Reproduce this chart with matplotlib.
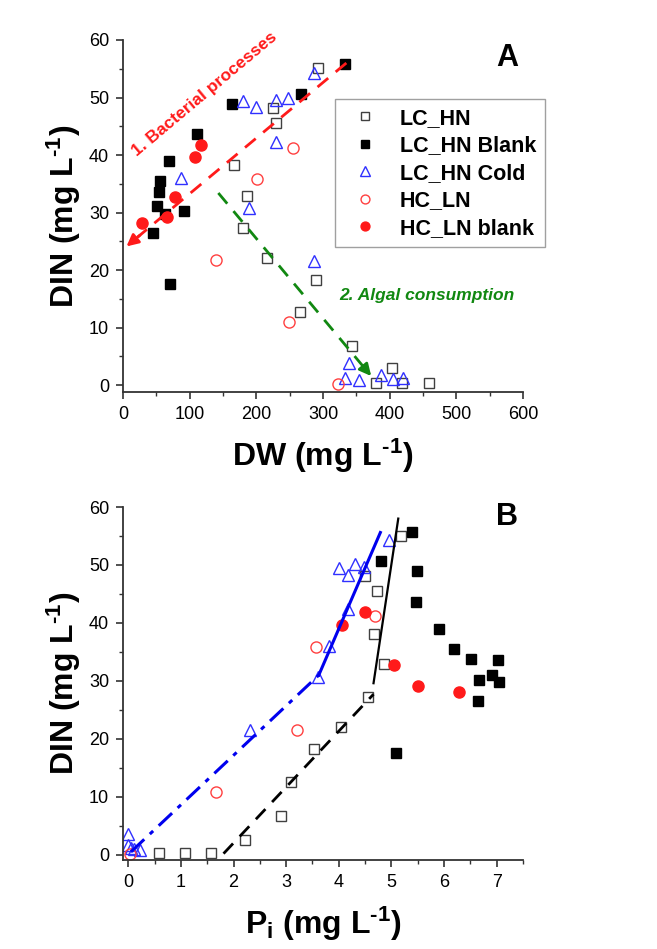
import matplotlib
matplotlib.use("Agg")
import matplotlib.pyplot as plt
from matplotlib.ticker import MultipleLocator

plt.rcParams["font.family"] = ["Liberation Sans", "DejaVu Sans"]
plt.rcParams["mathtext.fontset"] = "custom"
plt.rcParams["mathtext.rm"] = "Liberation Sans:bold"
plt.rcParams["mathtext.bf"] = "Liberation Sans:bold"
plt.rcParams["mathtext.it"] = "Liberation Sans:bold"
plt.rcParams["mathtext.default"] = "rm"

# ---- panel A : DIN vs DW ----
a_lchn_dw = [292, 225, 230, 167, 186, 180, 216, 290, 266, 344, 404, 380, 419, 459]
a_lchn_din = [55.1, 48.2, 45.6, 38.3, 32.9, 27.4, 22.1, 18.3, 12.7, 6.8, 2.9, 0.4, 0.3, 0.3]

a_blank_dw = [333, 267, 164, 111, 69, 56, 54, 51, 92, 45, 70, 63]
a_blank_din = [55.8, 50.6, 48.9, 43.7, 39.0, 35.5, 33.6, 31.1, 30.2, 26.4, 17.6, 29.8]

a_cold_dw = [287, 180, 199, 229, 247, 229, 87, 189, 286, 339, 333, 354, 387, 405, 420]
a_cold_din = [54.3, 49.4, 48.3, 49.6, 50.0, 42.3, 36.0, 30.8, 21.6, 3.8, 1.2, 0.9, 1.7, 1.0, 1.2]

a_hcln_dw = [255, 201, 140, 249, 323]
a_hcln_din = [41.2, 35.8, 21.7, 11.0, 0.2]

a_hcblank_dw = [117, 108, 78, 66, 29]
a_hcblank_din = [41.7, 39.7, 32.7, 29.3, 28.2]

# trend arrows (start, end)
bact_arrow = [(335, 56.0), (2, 23.8)]
algal_arrow = [(143, 33.4), (375, 1.2)]

# ---- panel B : DIN vs Pi ----
b_lchn_p = [5.19, 4.49, 4.73, 4.66, 4.85, 4.56, 4.05, 3.52, 3.10, 2.91, 2.22, 1.58, 1.08, 0.59]
b_lchn_din = [55.0, 48.1, 45.5, 38.1, 32.9, 27.3, 22.0, 18.2, 12.5, 6.7, 2.6, 0.3, 0.3, 0.3]

b_blank_p = [5.40, 4.81, 5.49, 5.46, 5.91, 6.18, 6.52, 7.02, 6.92, 7.05, 6.67, 6.65, 5.08]
b_blank_din = [55.7, 50.7, 49.0, 43.6, 38.9, 35.5, 33.7, 33.6, 31.1, 29.8, 30.1, 26.5, 17.5]

b_cold_p = [4.96, 4.01, 4.18, 4.30, 4.47, 4.18, 3.82, 3.61, 2.32, 0.0, 0.0, 0.1, 0.23, 0.05]
b_cold_din = [54.3, 49.5, 48.3, 50.1, 49.7, 42.4, 36.0, 30.6, 21.5, 3.5, 1.7, 1.0, 0.9, 1.2]

b_hcln_p = [4.68, 3.56, 3.21, 1.67, 0.04]
b_hcln_din = [41.2, 35.8, 21.6, 10.9, 0.2]

b_hcblank_p = [4.49, 4.07, 5.04, 5.51, 6.29]
b_hcblank_din = [41.9, 39.6, 32.7, 29.2, 28.0]

# fitted segments
blue_solid_p, blue_solid_din = [3.62, 4.79], [31.0, 55.6]
blue_dashdot_p, blue_dashdot_din = [0.05, 3.62], [0.5, 31.0]
black_solid_p, black_solid_din = [4.66, 5.13], [29.6, 58.0]
black_dash_p, black_dash_din = [1.81, 4.66], [0.2, 27.7]

legend_labels = ["LC_HN", "LC_HN Blank", "LC_HN Cold", "HC_LN", "HC_LN blank"]

fig = plt.figure(figsize=(6.57, 9.49), dpi=100)
ax_a = fig.add_axes([123 / 657, 1 - 392 / 949, 400 / 657, 352 / 949])
ax_b = fig.add_axes([123 / 657, 1 - 860 / 949, 400 / 657, 353 / 949])

BLUE = "#3030ff"
RED = "#ff1a1a"
GREEN = "#118811"
UNIT = " (mg L$^{\\text{-1}}$)"


def draw_points(ax, lchn, blank, cold, hcln, hcblank):
    ax.plot(*lchn, ls="none", marker="s", ms=7, mfc="white", mec="#404040", mew=1.0,
            label=legend_labels[0])
    ax.plot(*blank, ls="none", marker="s", ms=7, mfc="black", mec="black",
            label=legend_labels[1])
    ax.plot(*cold, ls="none", marker="^", ms=8.5, mfc="none", mec=BLUE, mew=1.0,
            label=legend_labels[2])
    ax.plot(*hcln, ls="none", marker="o", ms=8, mfc="none", mec="#ff4040", mew=1.0,
            label=legend_labels[3])
    ax.plot(*hcblank, ls="none", marker="o", ms=8, mfc=RED, mec=RED,
            label=legend_labels[4])


def style_axes(ax, xmaj, xmin):
    for side in ("top", "right"):
        ax.spines[side].set_visible(False)
    for side in ("left", "bottom"):
        ax.spines[side].set_linewidth(1.3)
        ax.spines[side].set_color("#333333")
    ax.yaxis.set_major_locator(MultipleLocator(10))
    ax.yaxis.set_minor_locator(MultipleLocator(5))
    ax.xaxis.set_major_locator(MultipleLocator(xmaj))
    ax.xaxis.set_minor_locator(MultipleLocator(xmin))
    ax.tick_params(which="major", direction="out", length=5, width=1.2,
                   color="#333333", labelsize=13, pad=5)
    ax.tick_params(which="minor", direction="out", length=3, width=1.0,
                   color="#333333")


def dashed_arrow(ax, start, end, color):
    (x0, y0), (x1, y1) = start, end
    ax.plot([x0, x1 + 0.06 * (x0 - x1)], [y0, y1 + 0.06 * (y0 - y1)],
            color=color, lw=2, ls=(0, (5, 3.5)))
    ax.annotate("", xy=(x1, y1), xytext=(x1 + 0.08 * (x0 - x1), y1 + 0.08 * (y0 - y1)),
                arrowprops=dict(arrowstyle="-|>,head_length=0.7,head_width=0.35",
                                color=color, lw=2))


# panel A
draw_points(ax_a, (a_lchn_dw, a_lchn_din), (a_blank_dw, a_blank_din),
            (a_cold_dw, a_cold_din), (a_hcln_dw, a_hcln_din),
            (a_hcblank_dw, a_hcblank_din))
dashed_arrow(ax_a, *bact_arrow, RED)
dashed_arrow(ax_a, *algal_arrow, GREEN)

ax_a.text(123, 50.5, "1. Bacterial processes", color=RED, fontsize=12.5,
          fontweight="bold", rotation=40, ha="center", va="center",
          rotation_mode="anchor")
ax_a.text(325, 15.6, "2. Algal consumption", color=GREEN, fontsize=12.5,
          fontweight="bold", style="italic", ha="left", va="center")
ax_a.text(0.96, 0.95, "A", transform=ax_a.transAxes, fontsize=22,
          fontweight="bold", ha="center", va="center")

ax_a.set_xlim(0, 600)
ax_a.set_ylim(-1.2, 60)
style_axes(ax_a, 100, 50)
ax_a.set_xlabel("DW" + UNIT, fontsize=23, fontweight="bold", labelpad=10)
ax_a.set_ylabel("DIN" + UNIT, fontsize=23, fontweight="bold", labelpad=4)

leg = ax_a.legend(loc="upper left", bbox_to_anchor=(0.53, 0.832), borderaxespad=0,
                  frameon=True, fancybox=False, edgecolor="#888888",
                  prop={"weight": "bold", "size": 15.5}, handletextpad=0.6,
                  labelspacing=0.3, borderpad=0.4, markerscale=0.8)
leg.get_frame().set_linewidth(1.0)
leg.set_clip_on(False)

# panel B
draw_points(ax_b, (b_lchn_p, b_lchn_din), (b_blank_p, b_blank_din),
            (b_cold_p, b_cold_din), (b_hcln_p, b_hcln_din),
            (b_hcblank_p, b_hcblank_din))
ax_b.plot(blue_solid_p, blue_solid_din, color="#0000ee", lw=2.2)
ax_b.plot(blue_dashdot_p, blue_dashdot_din, color="#0000ee", lw=2.2,
          ls=(0, (6, 2.5, 1.5, 2.5)))
ax_b.plot(black_solid_p, black_solid_din, color="black", lw=1.6)
ax_b.plot(black_dash_p, black_dash_din, color="black", lw=2.0, ls=(0, (5, 3.5)))

ax_b.text(0.96, 0.972, "B", transform=ax_b.transAxes, fontsize=22,
          fontweight="bold", ha="center", va="center")
ax_b.set_xlim(-0.1, 7.5)
ax_b.set_ylim(-0.9, 60)
style_axes(ax_b, 1, 0.5)
ax_b.set_xticks(range(0, 8))
ax_b.set_xlabel("P$_{\\mathregular{i}}$" + UNIT, fontsize=23, fontweight="bold",
                labelpad=10)
ax_b.set_ylabel("DIN" + UNIT, fontsize=23, fontweight="bold", labelpad=4)

fig.savefig("out.png", dpi=100)
